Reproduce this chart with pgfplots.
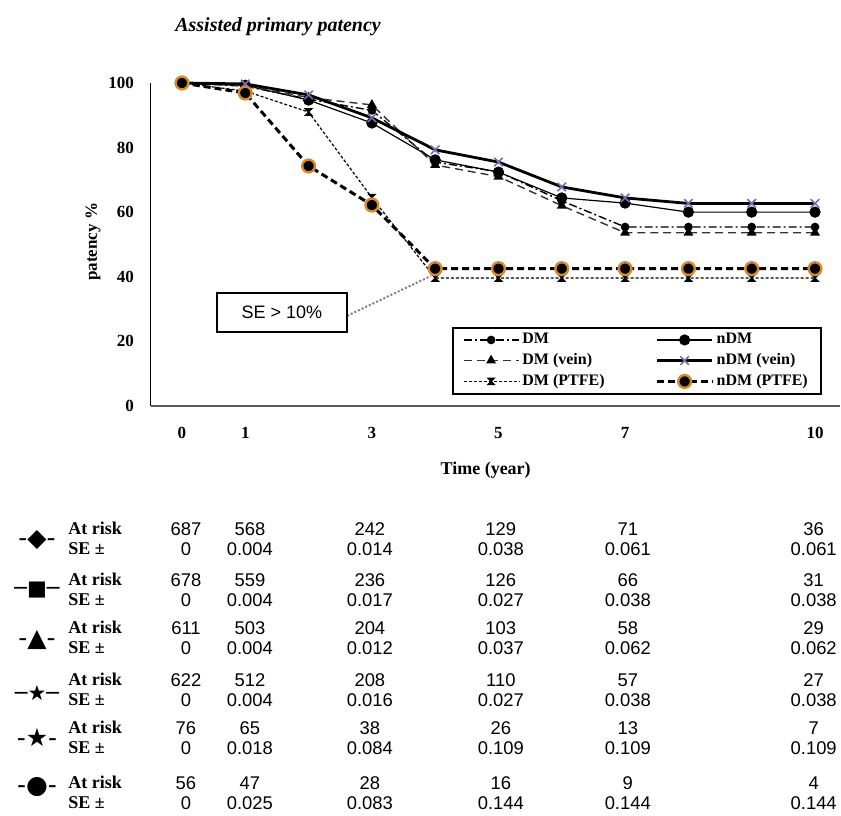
\documentclass[border=0pt]{standalone}
\usepackage{pgfplots}
\pgfplotsset{compat=1.18}
\usepackage{fontspec}
\setmainfont{Liberation Serif}
\newfontfamily\arial{Liberation Sans}
\newfontfamily\dejavu{DejaVu Sans}
\definecolor{xpurple}{RGB}{125,105,175}
\definecolor{oring}{RGB}{214,138,40}
\pgfdeclareplotmark{hourglass}{%
 \pgfpathmoveto{\pgfqpoint{-\pgfplotmarksize}{\pgfplotmarksize}}%
 \pgfpathlineto{\pgfqpoint{\pgfplotmarksize}{\pgfplotmarksize}}%
 \pgfpathlineto{\pgfqpoint{-\pgfplotmarksize}{-\pgfplotmarksize}}%
 \pgfpathlineto{\pgfqpoint{\pgfplotmarksize}{-\pgfplotmarksize}}%
 \pgfpathclose\pgfusepathqfillstroke}
\newcommand\riskrow[7]{%
  \foreach \xx/\vv in {186/#2,250/#3,370/#4,501/#5,628/#6,814/#7}
    {\node[num] at (\xx,#1) {\vv};}}
\begin{document}
\begin{tikzpicture}
\begin{scope}[x=0.5pt,y=-0.5pt]
\path[use as bounding box] (0,0) rectangle (841,816);
\end{scope}
\begin{axis}[
 at={(75.5pt,-203pt)}, anchor=south west, scale only axis,
 width=344.5pt, height=161.5pt,
 xmin=-0.49, xmax=10.39, ymin=0, ymax=100,
 axis lines*=left,
 x axis line style={line width=1.3pt, black!65},
 y axis line style={line width=0.5pt},
 xtick={0,1,3,5,7,10}, ytick={0,20,40,60,80,100},
 major tick length=0pt,
 /pgf/number format/assume math mode=true,
 ticklabel style={font=\bfseries\fontsize{8.5}{10}\selectfont},
 xticklabel style={yshift=-7pt},
 yticklabel style={xshift=-5pt},
 xlabel={Time (year)}, ylabel={patency \%},
 xlabel style={at={(axis description cs:0.486,-0.198)}, anchor=center, font=\bfseries\fontsize{9}{10}\selectfont},
 ylabel style={at={(axis description cs:-0.084,0.508)}, anchor=center, font=\bfseries\fontsize{8.5}{10}\selectfont},
 clip=false,
 legend columns=2, legend cell align=left,
 legend image code/.code={\draw[mark repeat=2,mark phase=2,#1] plot coordinates {(0cm,0cm) (0.485cm,0cm) (0.97cm,0cm)};},
 legend style={at={(axis description cs:0.974,0.034)}, anchor=south east, draw=black, line width=1pt,
   font=\bfseries\fontsize{8}{9}\selectfont, inner xsep=5pt, inner ysep=1.2pt, row sep=0.4pt,
   nodes={inner sep=1.5pt},
   /tikz/column 2/.style={column sep=24pt}},
]
\addplot[black, line width=0.7pt, dash pattern=on 4pt off 1.5pt on 1pt off 1.5pt, mark=*, mark size=1.8pt, mark options={solid}]
 coordinates {(0,100) (1,99.0) (2,95.0) (3,91.5) (4,75.5) (5,72.5) (6,63.5) (7,55.4) (8,55.4) (9,55.4) (10,55.4)};
\addlegendentry{DM}
\addplot[black, line width=0.6pt, mark=*, mark size=2.5pt]
 coordinates {(0,100) (1,99.3) (2,94.7) (3,87.6) (4,76.2) (5,72.4) (6,64.4) (7,62.8) (8,60.0) (9,60.0) (10,60.0)};
\addlegendentry{nDM}
\addplot[black!80, line width=0.7pt, dash pattern=on 4pt off 2.5pt, mark=triangle*, mark size=2.2pt, mark options={solid, black}]
 coordinates {(0,100) (1,99.2) (2,95.5) (3,93.2) (4,74.6) (5,71.0) (6,62.0) (7,53.6) (8,53.6) (9,53.6) (10,53.6)};
\addlegendentry{DM (vein)}
\addplot[black, line width=1.4pt, mark=x, mark size=3pt, mark options={xpurple, line width=0.8pt}]
 coordinates {(0,100) (1,99.7) (2,96.3) (3,89.2) (4,79.3) (5,75.5) (6,67.8) (7,64.4) (8,62.7) (9,62.7) (10,62.7)};
\addlegendentry{nDM (vein)}
\addplot[black, line width=0.6pt, dash pattern=on 1.5pt off 1pt, mark=hourglass, mark size=1.6pt, mark options={solid}]
 coordinates {(0,100) (1,97.5) (2,91.0) (3,64.5) (4,39.6) (5,39.6) (6,39.6) (7,39.6) (8,39.6) (9,39.6) (10,39.6)};
\addlegendentry{DM (PTFE)}
\addplot[black, line width=1.5pt, dash pattern=on 3.5pt off 2pt, mark=*, mark size=3.2pt, mark options={solid, fill=black, draw=oring, line width=1.2pt}]
 coordinates {(0,100) (1,96.9) (2,74.3) (3,62.2) (4,42.5) (5,42.5) (6,42.5) (7,42.5) (8,42.5) (9,42.5) (10,42.5)};
\addlegendentry{nDM (PTFE)}
\addplot[gray, line width=1pt, densely dotted, forget plot] coordinates {(2.61,27.9) (3.93,40.2)};
\node[draw=black, line width=0.9pt, minimum width=65pt, minimum height=19.5pt, inner sep=0pt,
  font=\arial\fontsize{9}{10}\selectfont] at (axis cs:1.58,28.9) {SE > 10\%};
\end{axis}
\begin{scope}[x=0.5pt,y=-0.5pt,
  num/.style={font=\arial\fontsize{9.2}{10}\selectfont, inner sep=0pt},
  lab/.style={font=\bfseries\fontsize{9}{10}\selectfont, anchor=west, inner sep=0pt},
  sym/.style={font=\dejavu\fontsize{12.5}{13}\selectfont, inner sep=0pt},
  symb/.style={font=\dejavu\fontsize{10.5}{12}\selectfont, inner sep=0pt}]
\node[anchor=base west, font=\bfseries\itshape\fontsize{10}{12}\selectfont, inner sep=0pt] at (175,32) {Assisted primary patency};
\foreach \yy in {529,580,628,680,728,783} {
  \node[lab] at (68,\yy) {At risk};
  \node[lab] at (68,\yy+20) {SE ±};
}
\node[sym] at (37,540) {-◆-};
\node[symb] at (37,590) {─■─};
\node[sym] at (37,640) {-▲-};
\node[symb] at (37,693) {─★─};
\node[sym] at (37,738) {-★-};
\node[sym] at (37,787) {-●-};
\riskrow{529}{687}{568}{242}{129}{71}{36}
\riskrow{549}{0}{0.004}{0.014}{0.038}{0.061}{0.061}
\riskrow{580}{678}{559}{236}{126}{66}{31}
\riskrow{600}{0}{0.004}{0.017}{0.027}{0.038}{0.038}
\riskrow{628}{611}{503}{204}{103}{58}{29}
\riskrow{648}{0}{0.004}{0.012}{0.037}{0.062}{0.062}
\riskrow{680}{622}{512}{208}{110}{57}{27}
\riskrow{700}{0}{0.004}{0.016}{0.027}{0.038}{0.038}
\riskrow{728}{76}{65}{38}{26}{13}{7}
\riskrow{748}{0}{0.018}{0.084}{0.109}{0.109}{0.109}
\riskrow{783}{56}{47}{28}{16}{9}{4}
\riskrow{803}{0}{0.025}{0.083}{0.144}{0.144}{0.144}
\end{scope}
\end{tikzpicture}
\end{document}
